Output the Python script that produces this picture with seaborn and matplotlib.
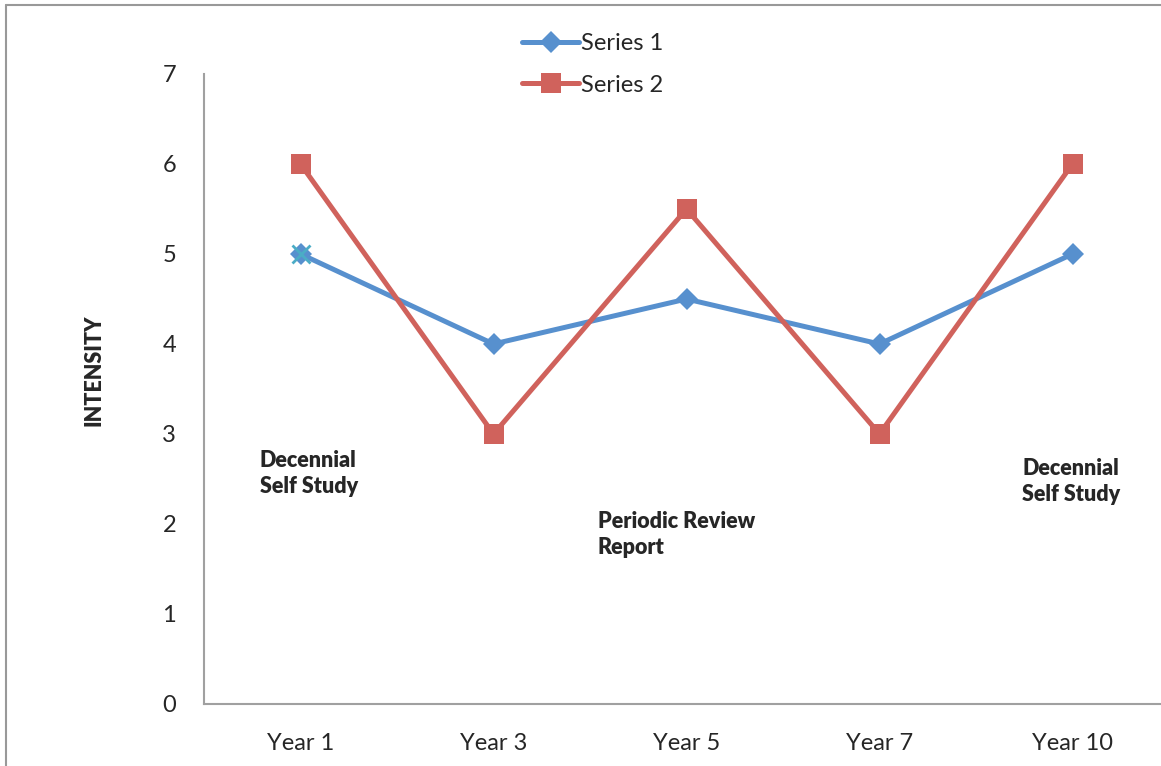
import numpy as np
import pandas as pd
import matplotlib
matplotlib.use("Agg")
import matplotlib.pyplot as plt
import seaborn as sns
from matplotlib.lines import Line2D

# data
years = ["Year 1", "Year 3", "Year 5", "Year 7", "Year 10"]
series1 = [5, 4, 4.5, 4, 5]
series2 = [6, 3, 5.5, 3, 6]
extra_point = [5]  # stray marker on Year 1

sns.set_theme(style="white")
plt.rcParams["font.family"] = ["Lato", "DejaVu Sans"]

df = pd.DataFrame({
    "year": years * 2,
    "value": series1 + series2,
    "series": ["Series 1"] * 5 + ["Series 2"] * 5,
})

fig = plt.figure(figsize=(11.61, 7.66), dpi=100)
ax = fig.add_axes([204 / 1161, 62 / 766, 965 / 1161, 630 / 766])

blue = "#5790CE"
red = "#D0625C"

sns.lineplot(data=df, x="year", y="value", hue="series", style="series",
             palette={"Series 1": blue, "Series 2": red},
             markers={"Series 1": "D", "Series 2": "s"},
             dashes=False, linewidth=3.6, markeredgewidth=0,
             ax=ax, legend=False, sort=False)
# marker sizes
for ln, ms in zip(ax.lines, [11, 15]):
    ln.set_markersize(ms)

ax.plot([0], extra_point, marker="x", color="#4BACC6", markersize=13,
        markeredgewidth=2, linestyle="none")

ax.set_xlim(-0.5, 4.5)
ax.set_ylim(0, 7)
ax.set_yticks(range(8))
ax.set_xlabel("")
ax.set_ylabel("INTENSITY", fontsize=15.5, fontweight="heavy")
ax.yaxis.set_label_coords(-100 / 965, 334 / 630)
ax.tick_params(axis="both", length=0, labelsize=17)
ax.tick_params(axis="y", pad=20)
ax.tick_params(axis="x", pad=21)
for s in ["top", "right"]:
    ax.spines[s].set_visible(False)
for s in ["left", "bottom"]:
    ax.spines[s].set_color("#A0A0A0")
    ax.spines[s].set_linewidth(1.5)

# annotations
ann = dict(fontsize=15.5, fontweight="heavy", ha="left", va="top", linespacing=1.3)
ax.text(-0.21, 2.82, "Decennial\nSelf Study", **ann)
ax.text(1.54, 2.15, "Periodic Review\nReport", **ann)
ax.text(3.74, 2.73, "Decennial\nSelf Study", **ann)

# legend
handles = [
    Line2D([0], [0], color=blue, lw=3.6, marker="D", markersize=11, markeredgewidth=0),
    Line2D([0], [0], color=red, lw=3.6, marker="s", markersize=15, markeredgewidth=0),
]
fig.legend(handles, ["Series 1", "Series 2"], loc="upper left",
           bbox_to_anchor=(513 / 1161, 1 - 24 / 766), frameon=False,
           fontsize=17, handlelength=2.4, handletextpad=0.1,
           labelspacing=0.85, borderaxespad=0)

# outer border of chart area
fig.add_artist(Line2D([6 / 1161, 6 / 1161], [0, 1 - 5 / 766],
                      transform=fig.transFigure, color="#999999", lw=1.5))
fig.add_artist(Line2D([6 / 1161, 1], [1 - 5 / 766, 1 - 5 / 766],
                      transform=fig.transFigure, color="#999999", lw=1.5))

fig.savefig("out.png", dpi=100)
